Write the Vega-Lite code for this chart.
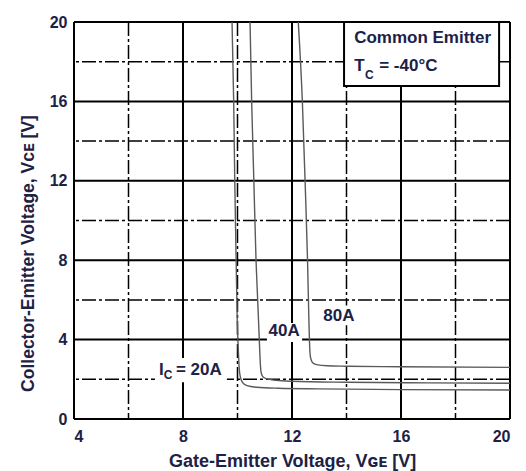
{
  "$schema": "https://vega.github.io/schema/vega-lite/v6.json",
  "width": 436,
  "height": 397,
  "autosize": {"type": "none"},
  "padding": {"left": 74, "top": 22, "right": 16, "bottom": 52},
  "background": "white",
  "config": {
    "view": {"stroke": null},
    "font": "Liberation Sans",
    "axis": {
      "grid": false, "ticks": false, "domain": false,
      "labelFont": "Liberation Sans", "labelFontSize": 16, "labelFontWeight": "bold", "labelColor": "#1c2145",
      "titleFont": "Liberation Sans", "titleFontSize": 18, "titleFontWeight": "bold", "titleColor": "#1c2145"
    }
  },
  "datasets": {
    "vminor": [{"x": 6}, {"x": 10}, {"x": 14}, {"x": 18}],
    "hminor": [{"y": 2}, {"y": 6}, {"y": 10}, {"y": 14}, {"y": 18}],
    "vmajor": [{"x": 4}, {"x": 8}, {"x": 12}, {"x": 16}, {"x": 20}],
    "hmajor": [{"y": 0}, {"y": 4}, {"y": 8}, {"y": 12}, {"y": 16}, {"y": 20}],
    "boxes": [
      {"x": 6.97, "x2": 9.61, "y": 1.85, "y2": 3.07},
      {"x": 11.08, "x2": 12.37, "y": 3.88, "y2": 4.84},
      {"x": 13.05, "x2": 14.35, "y": 4.72, "y2": 5.72}
    ],
    "curves": [
      {"ic": "20A", "o": 1, "x": 9.80, "y": 20},
      {"ic": "20A", "o": 2, "x": 9.86, "y": 16},
      {"ic": "20A", "o": 3, "x": 9.90, "y": 12},
      {"ic": "20A", "o": 4, "x": 9.95, "y": 8},
      {"ic": "20A", "o": 5, "x": 9.99, "y": 5},
      {"ic": "20A", "o": 6, "x": 10.03, "y": 3.5},
      {"ic": "20A", "o": 7, "x": 10.06, "y": 2.6},
      {"ic": "20A", "o": 8, "x": 10.10, "y": 2.15},
      {"ic": "20A", "o": 9, "x": 10.18, "y": 1.85},
      {"ic": "20A", "o": 10, "x": 10.35, "y": 1.68},
      {"ic": "20A", "o": 11, "x": 10.7, "y": 1.6},
      {"ic": "20A", "o": 12, "x": 11.5, "y": 1.55},
      {"ic": "20A", "o": 13, "x": 13, "y": 1.52},
      {"ic": "20A", "o": 14, "x": 16, "y": 1.48},
      {"ic": "20A", "o": 15, "x": 20, "y": 1.46},
      {"ic": "40A", "o": 1, "x": 10.46, "y": 20},
      {"ic": "40A", "o": 2, "x": 10.52, "y": 16},
      {"ic": "40A", "o": 3, "x": 10.60, "y": 12},
      {"ic": "40A", "o": 4, "x": 10.68, "y": 8},
      {"ic": "40A", "o": 5, "x": 10.74, "y": 6},
      {"ic": "40A", "o": 6, "x": 10.80, "y": 4},
      {"ic": "40A", "o": 7, "x": 10.83, "y": 3},
      {"ic": "40A", "o": 8, "x": 10.86, "y": 2.4},
      {"ic": "40A", "o": 9, "x": 10.92, "y": 2.15},
      {"ic": "40A", "o": 10, "x": 11.05, "y": 2.03},
      {"ic": "40A", "o": 11, "x": 11.4, "y": 1.95},
      {"ic": "40A", "o": 12, "x": 12, "y": 1.9},
      {"ic": "40A", "o": 13, "x": 14, "y": 1.85},
      {"ic": "40A", "o": 14, "x": 17, "y": 1.82},
      {"ic": "40A", "o": 15, "x": 20, "y": 1.8},
      {"ic": "80A", "o": 1, "x": 12.23, "y": 20},
      {"ic": "80A", "o": 2, "x": 12.38, "y": 16},
      {"ic": "80A", "o": 3, "x": 12.48, "y": 12},
      {"ic": "80A", "o": 4, "x": 12.57, "y": 8},
      {"ic": "80A", "o": 5, "x": 12.62, "y": 5},
      {"ic": "80A", "o": 6, "x": 12.65, "y": 3.6},
      {"ic": "80A", "o": 7, "x": 12.68, "y": 3.1},
      {"ic": "80A", "o": 8, "x": 12.75, "y": 2.85},
      {"ic": "80A", "o": 9, "x": 12.9, "y": 2.74},
      {"ic": "80A", "o": 10, "x": 13.3, "y": 2.68},
      {"ic": "80A", "o": 11, "x": 14, "y": 2.66},
      {"ic": "80A", "o": 12, "x": 16, "y": 2.63},
      {"ic": "80A", "o": 13, "x": 20, "y": 2.6}
    ],
    "legendbox": [{"x": 13.91, "x2": 19.6, "y": 16.78, "y2": 20}],
    "maintext": [
      {"t": "40A", "x": 11.71, "y": 4.43},
      {"t": "80A", "x": 13.72, "y": 5.21}
    ],
    "lefttext": [
      {"t": "Common Emitter", "x": 14.28, "y": 19.17},
      {"t": "T", "x": 14.28, "y": 17.76},
      {"t": "= -40°C", "x": 15.2, "y": 17.76},
      {"t": "I", "x": 7.12, "y": 2.47},
      {"t": "= 20A", "x": 7.74, "y": 2.47}
    ],
    "subtext": [
      {"t": "C", "x": 14.84, "y": 17.32},
      {"t": "C", "x": 7.45, "y": 2.2}
    ]
  },
  "layer": [
    {
      "data": {"name": "vminor"},
      "mark": {"type": "rule", "color": "black", "strokeWidth": 1.5, "strokeDash": [14, 3, 3, 3]},
      "encoding": {
        "x": {"field": "x", "type": "quantitative", "scale": {"domain": [4, 20], "nice": false, "zero": false},
          "axis": {"values": [4, 8, 12, 16, 20], "labelPadding": 9, "title": "Gate-Emitter Voltage, Vɢᴇ [V]", "titleX": 218, "titleY": 47, "titleBaseline": "alphabetic"}}
      }
    },
    {
      "data": {"name": "hminor"},
      "mark": {"type": "rule", "color": "black", "strokeWidth": 1.5, "strokeDash": [14, 3, 3, 3]},
      "encoding": {
        "y": {"field": "y", "type": "quantitative", "scale": {"domain": [0, 20], "nice": false, "zero": false},
          "axis": {"values": [0, 4, 8, 12, 16, 20], "labelPadding": 7, "title": "Collector-Emitter Voltage, Vᴄᴇ [V]", "titleFontSize": 17.5, "titleAngle": -90, "titleX": -41, "titleY": 231, "titleBaseline": "alphabetic", "titleAlign": "center"}}
      }
    },
    {
      "data": {"name": "vmajor"},
      "mark": {"type": "rule", "color": "black", "strokeWidth": 2},
      "encoding": {"x": {"field": "x", "type": "quantitative"}}
    },
    {
      "data": {"name": "hmajor"},
      "mark": {"type": "rule", "color": "black", "strokeWidth": 2},
      "encoding": {"y": {"field": "y", "type": "quantitative"}}
    },
    {
      "data": {"name": "boxes"},
      "mark": {"type": "rect", "color": "white"},
      "encoding": {
        "x": {"field": "x", "type": "quantitative"}, "x2": {"field": "x2"},
        "y": {"field": "y", "type": "quantitative"}, "y2": {"field": "y2"}
      }
    },
    {
      "data": {"name": "curves"},
      "mark": {"type": "line", "color": "#5a5a5a", "strokeWidth": 1.4, "interpolate": "monotone"},
      "encoding": {
        "x": {"field": "x", "type": "quantitative"},
        "y": {"field": "y", "type": "quantitative"},
        "detail": {"field": "ic"},
        "order": {"field": "o", "type": "quantitative"}
      }
    },
    {
      "data": {"name": "legendbox"},
      "mark": {"type": "rect", "fill": "white", "stroke": "black", "strokeWidth": 2},
      "encoding": {
        "x": {"field": "x", "type": "quantitative"}, "x2": {"field": "x2"},
        "y": {"field": "y", "type": "quantitative"}, "y2": {"field": "y2"}
      }
    },
    {
      "data": {"name": "maintext"},
      "mark": {"type": "text", "fontSize": 17, "fontWeight": "bold", "color": "#1c2145", "align": "center", "baseline": "middle"},
      "encoding": {
        "x": {"field": "x", "type": "quantitative"},
        "y": {"field": "y", "type": "quantitative"},
        "text": {"field": "t"}
      }
    },
    {
      "data": {"name": "lefttext"},
      "mark": {"type": "text", "fontSize": 17, "fontWeight": "bold", "color": "#1c2145", "align": "left", "baseline": "middle"},
      "encoding": {
        "x": {"field": "x", "type": "quantitative"},
        "y": {"field": "y", "type": "quantitative"},
        "text": {"field": "t"}
      }
    },
    {
      "data": {"name": "subtext"},
      "mark": {"type": "text", "fontSize": 12, "fontWeight": "bold", "color": "#1c2145", "align": "center", "baseline": "middle"},
      "encoding": {
        "x": {"field": "x", "type": "quantitative"},
        "y": {"field": "y", "type": "quantitative"},
        "text": {"field": "t"}
      }
    }
  ]
}
